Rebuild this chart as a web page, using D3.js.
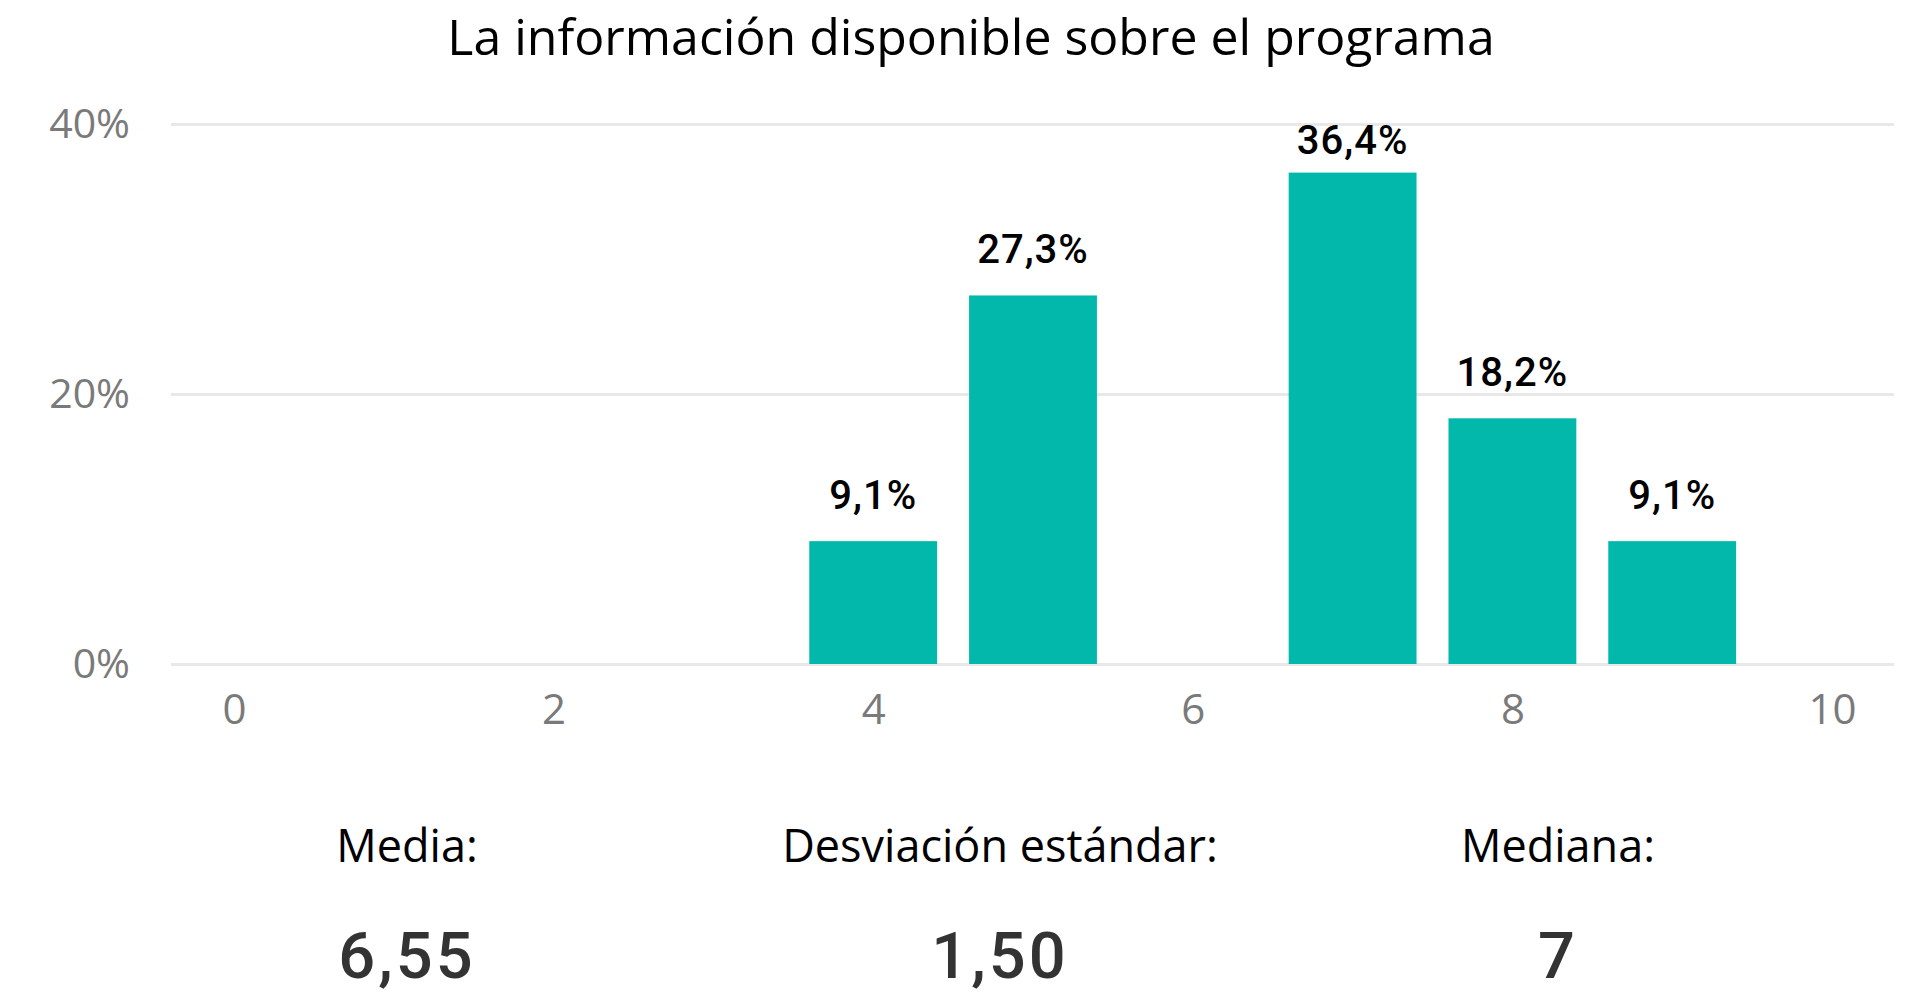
<!DOCTYPE html>
<html lang="es">
<head>
    <meta charset="UTF-8">
    <title>La información disponible sobre el programa</title>
    <style>
        body {
            margin: 0;
            background-color: #fff;
        }

        #chart {
            display: block;
            width: 1912px;
            height: 993px;
        }

        .title, .stat-label {
            font-family: "Open Sans", "Noto Sans", sans-serif;
            fill: #000;
        }

        .axis text {
            font-family: "Open Sans", "Noto Sans", sans-serif;
            fill: #7a7a7a;
        }

        .bar-label {
            font-family: Roboto, sans-serif;
            font-weight: 500;
            fill: #000;
        }

        .stat-value {
            font-family: Roboto, sans-serif;
            font-weight: 500;
            fill: #333;
        }
    </style>
</head>
<body>
    <svg id="chart"></svg>

    <script src="https://cdnjs.cloudflare.com/ajax/libs/d3/7.8.5/d3.min.js"></script>
    <script>
        const title = 'La información disponible sobre el programa';

        // puntuaciones 0..10 y porcentaje de respuestas
        const scores = [0, 1, 2, 3, 4, 5, 6, 7, 8, 9, 10];
        const percents = [0, 0, 0, 0, 9.1, 27.3, 0, 36.4, 18.2, 9.1, 0];

        const xTicks = [0, 2, 4, 6, 8, 10];
        const yTicks = [0, 20, 40];

        const statLabels = ['Media:', 'Desviación estándar:', 'Mediana:'];
        const statValues = ['6,55', '1,50', '7'];

        const svg = d3.select('#chart');

        const x = d3.scaleLinear()
            .domain([0, 10])
            .range([234, 1832]);

        const y = d3.scaleLinear()
            .domain([0, 40])
            .range([664, 124]);

        const barWidth = (x(1) - x(0)) * 0.8;
        const comma = v => v.toFixed(1).replace('.', ',') + '%';

        svg.append('text')
            .attr('class', 'title')
            .attr('x', 971)
            .attr('y', 55)
            .attr('text-anchor', 'middle')
            .style('font-size', '50px')
            .text(title);

        // gridlines + y labels
        let yAxis = d3.axisLeft(y)
            .tickValues(yTicks)
            .tickFormat(d => d + '%')
            .tickSize(-(1894 - 171))
            .tickPadding(41);

        let gy = svg.append('g')
            .attr('class', 'axis')
            .attr('transform', 'translate(171,0)')
            .call(yAxis);
        gy.select('.domain').remove();
        gy.selectAll('line')
            .attr('stroke', '#e8e8e8')
            .attr('stroke-width', 3);
        gy.selectAll('text')
            .style('font-size', '41px');

        let xAxis = d3.axisBottom(x)
            .tickValues(xTicks)
            .tickFormat(d => d)
            .tickSize(0)
            .tickPadding(30);

        let gx = svg.append('g')
            .attr('class', 'axis')
            .attr('transform', 'translate(0,664)')
            .call(xAxis);
        gx.select('.domain').remove();
        gx.selectAll('text')
            .style('font-size', '42px');

        const data = scores.map((s, i) => ({ score: s, value: percents[i] }))
            .filter(d => d.value > 0);

        svg.append('g')
            .selectAll('rect')
            .data(data)
            .join('rect')
            .attr('x', d => x(d.score) - barWidth / 2)
            .attr('y', d => y(d.value))
            .attr('width', barWidth)
            .attr('height', d => y(0) - y(d.value))
            .attr('fill', '#01b8aa');

        // labels sit above the bar, but never above the top of the plot
        svg.append('g')
            .selectAll('text')
            .data(data)
            .join('text')
            .attr('class', 'bar-label')
            .attr('x', d => x(d.score))
            .attr('y', d => Math.max(y(d.value) - 32, y(40) + 30))
            .attr('text-anchor', 'middle')
            .style('font-size', '40px')
            .style('letter-spacing', '1px')
            .text(d => comma(d.value));

        const statX = [407, 1000, 1558];

        svg.append('g')
            .selectAll('text')
            .data(statLabels)
            .join('text')
            .attr('class', 'stat-label')
            .attr('x', (d, i) => statX[i])
            .attr('y', 862)
            .attr('text-anchor', 'middle')
            .style('font-size', '45px')
            .text(d => d);

        svg.append('g')
            .selectAll('text')
            .data(statValues)
            .join('text')
            .attr('class', 'stat-value')
            .attr('x', (d, i) => statX[i])
            .attr('y', 978)
            .attr('text-anchor', 'middle')
            .style('font-size', '65px')
            .style('letter-spacing', '3px')
            .text(d => d);
    </script>
</body>
</html>
